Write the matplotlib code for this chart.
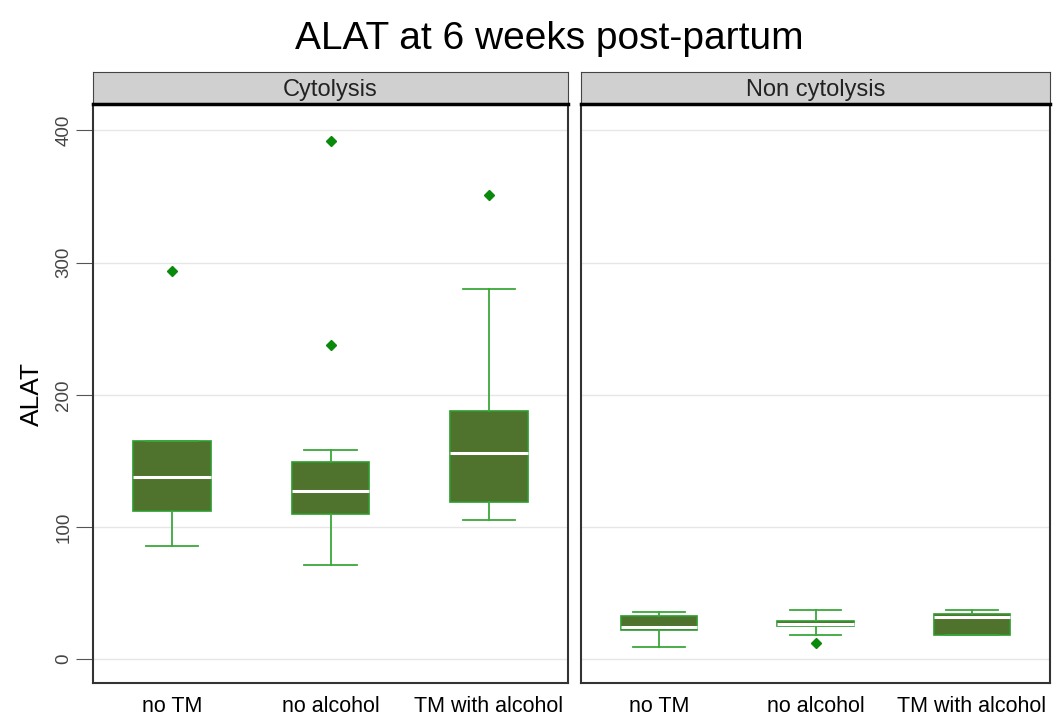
import matplotlib.pyplot as plt

plt.rcParams['font.family'] = ['Liberation Sans', 'DejaVu Sans']

groups = ['no TM', 'no alcohol', 'TM with alcohol']
panels = ['Cytolysis', 'Non cytolysis']

# five-number summaries: low whisker, q1, median, q3, high whisker
cyto_low = [86, 71, 105]
cyto_q1 = [112, 110, 119]
cyto_med = [138, 127, 156]
cyto_q3 = [165, 149, 188]
cyto_high = [165, 158, 280]
cyto_out = [[294], [238, 392], [351]]

non_low = [9, 18, 18]
non_q1 = [22, 25, 18]
non_med = [24, 27, 32]
non_q3 = [33, 29, 34]
non_high = [36, 37, 37]
non_out = [[], [12], []]

box_fill = '#4f722c'
box_edge = '#2e9a2e'
whisk_col = '#3aa83a'
out_col = '#0a8a0a'


def make_stats(low, q1, med, q3, high, out):
    return [dict(whislo=a, q1=b, med=c, q3=d, whishi=e, fliers=f)
            for a, b, c, d, e, f in zip(low, q1, med, q3, high, out)]


fig = plt.figure(figsize=(10.56, 7.18), dpi=100)
fig.text(0.52, 0.945, 'ALAT at 6 weeks post-partum', ha='center', va='center', fontsize=28)

stats_all = [make_stats(cyto_low, cyto_q1, cyto_med, cyto_q3, cyto_high, cyto_out),
             make_stats(non_low, non_q1, non_med, non_q3, non_high, non_out)]
lefts = [93 / 1056, 581 / 1056]
widths = [475 / 1056, 469 / 1056]
y0 = 35 / 718
h = 579 / 718

for i, (stats, title) in enumerate(zip(stats_all, panels)):
    ax = fig.add_axes([lefts[i], y0, widths[i], h])
    ax.bxp(stats, positions=[1, 2, 3], widths=0.49, patch_artist=True,
           boxprops=dict(facecolor=box_fill, edgecolor=box_edge, linewidth=1.2),
           medianprops=dict(color='white', linewidth=2.2),
           whiskerprops=dict(color=whisk_col, linewidth=1.3),
           capprops=dict(color=whisk_col, linewidth=1.3),
           capwidths=0.33,
           flierprops=dict(marker='D', markersize=5, markerfacecolor=out_col,
                           markeredgecolor=out_col))
    ax.set_xlim(0.5, 3.5)
    ax.set_ylim(-18, 420)
    ax.set_yticks([0, 100, 200, 300, 400])
    ax.grid(axis='y', color='#e6e6e6', linewidth=1)
    ax.set_axisbelow(True)
    ax.set_xticks([1, 2, 3])
    ax.set_xticklabels(groups, fontsize=15.5)
    ax.tick_params(axis='x', length=0, pad=9)
    for s in ['left', 'bottom', 'right']:
        ax.spines[s].set_color('#333333')
        ax.spines[s].set_linewidth(1.5)
    ax.spines['top'].set_visible(False)
    if i == 0:
        ax.set_yticklabels(['0', '100', '200', '300', '400'], rotation=90,
                           va='center', fontsize=13.5, color='#444444')
        ax.tick_params(axis='y', length=12, color='#555555', pad=3)
        ax.set_ylabel('ALAT', fontsize=19, labelpad=8)
    else:
        ax.set_yticklabels([])
        ax.tick_params(axis='y', length=0)

    # strip header
    sax = fig.add_axes([lefts[i], (718 - 104) / 718, widths[i], 32 / 718])
    sax.set_facecolor('#d0d0d0')
    sax.set_xticks([])
    sax.set_yticks([])
    for s in sax.spines.values():
        s.set_color('#444444')
    sax.spines['bottom'].set_linewidth(2.5)
    sax.spines['bottom'].set_color('black')
    sax.text(0.5, 0.45, title, ha='center', va='center', fontsize=17,
             color='#222222', transform=sax.transAxes)

fig.savefig('out.png', dpi=100)
